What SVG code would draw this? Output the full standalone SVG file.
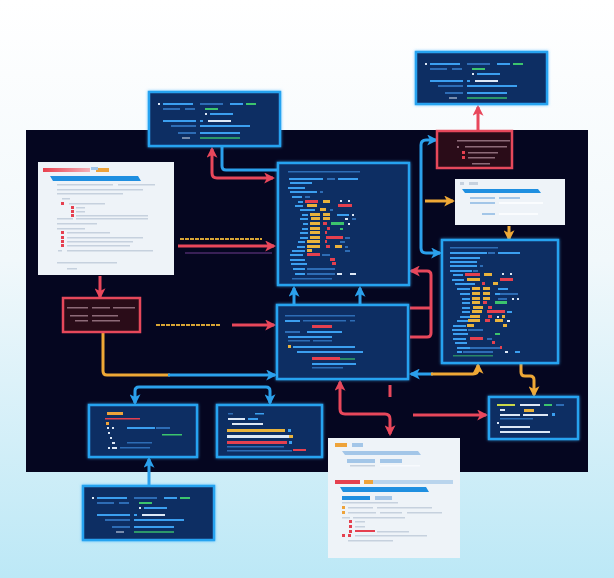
<svg xmlns="http://www.w3.org/2000/svg" width="614" height="578" viewBox="0 0 614 578">
<style>
.panel{fill:#050620}
.nb{fill:#112e64;stroke:#25a3f0;stroke-width:2.5}
.nr{fill:#2a0c18;stroke:#e6485b;stroke-width:2.5}
.card{fill:#eef3f8}
.b{fill:#3b9ff0}.bf{fill:#2d6cb5}.w{fill:#dde8f6}.y{fill:#e9b33c}.r{fill:#e5404f}.g{fill:#3cc46d}
.gr{fill:#c6d1de}.lb{fill:#a3c6e8}.o{fill:#eea33a}.rf{fill:#8d6a78}.bb{fill:#1f8fe0}
.cr{fill:none;stroke:#e8475b;stroke-width:3}
.cb{fill:none;stroke:#2ba0ec;stroke-width:3}
.co{fill:none;stroke:#efa836;stroke-width:3}
.lbl{fill:none;stroke:#d9a535;stroke-width:1.8;stroke-dasharray:4 1}
</style>
<defs>
<linearGradient id="bg" x1="0" y1="0" x2="0" y2="1">
<stop offset="0" stop-color="#ffffff"/>
<stop offset="0.45" stop-color="#f1f8fb"/>
<stop offset="1" stop-color="#bce8f6"/>
</linearGradient>
<linearGradient id="rbar" x1="0" y1="0" x2="1" y2="0">
<stop offset="0" stop-color="#e8404e"/>
<stop offset="1" stop-color="#f3b0b8"/>
</linearGradient>
<filter id="glow" x="-10%" y="-10%" width="120%" height="120%">
<feDropShadow dx="0" dy="0" stdDeviation="1.5" flood-color="#3ab0ff" flood-opacity="0.7"/>
</filter>
<marker id="ar" viewBox="0 0 10 10" refX="8" refY="5" markerWidth="11" markerHeight="11" markerUnits="userSpaceOnUse" orient="auto-start-reverse">
<path d="M0,0 L10,5 L0,10 L2.5,5 z" fill="#e8475b"/></marker>
<marker id="ab" viewBox="0 0 10 10" refX="8" refY="5" markerWidth="11" markerHeight="11" markerUnits="userSpaceOnUse" orient="auto-start-reverse">
<path d="M0,0 L10,5 L0,10 L2.5,5 z" fill="#2ba0ec"/></marker>
<marker id="ao" viewBox="0 0 10 10" refX="8" refY="5" markerWidth="11" markerHeight="11" markerUnits="userSpaceOnUse" orient="auto-start-reverse">
<path d="M0,0 L10,5 L0,10 L2.5,5 z" fill="#efa836"/></marker>
<g id="tpl">
<rect class="w" x="9" y="11" width="2" height="2"/><rect class="b" x="14" y="11" width="30" height="2"/><rect class="bf" x="51" y="11" width="23" height="2"/><rect class="b" x="81" y="11" width="13" height="2"/><rect class="g" x="97" y="11" width="10" height="2"/>
<rect class="bf" x="14" y="16" width="17" height="2"/><rect class="bf" x="36" y="16" width="10" height="2"/><rect class="g" x="56" y="16" width="13" height="2"/>
<rect class="w" x="56" y="21" width="2" height="2"/><rect class="b" x="61" y="21" width="23" height="2"/>
<rect class="b" x="14" y="28" width="33" height="2"/><rect class="b" x="51" y="28" width="3" height="2"/><rect class="w" x="59" y="28" width="23" height="2"/>
<rect class="bf" x="22" y="33" width="25" height="2"/><rect class="b" x="51" y="33" width="50" height="2"/>
<rect class="bf" x="29" y="40" width="18" height="2"/><rect class="b" x="51" y="40" width="40" height="2"/>
<rect class="w" x="33" y="45" width="8" height="2" opacity="0.5"/><rect class="g" x="51" y="45" width="40" height="2" opacity="0.7"/>
</g>
</defs>
<rect x="0" y="0" width="614" height="578" fill="url(#bg)"/>
<rect class="panel" x="26" y="130" width="562" height="342"/>

<g id="connectors">
<path class="cr" d="M212,149 L212,173 Q212,178 217,178 L273,178" marker-start="url(#ar)" marker-end="url(#ar)"/>
<line class="lbl" x1="180" y1="239" x2="262" y2="239"/>
<path class="cr" d="M178,246 L274,246" marker-end="url(#ar)"/>
<path d="M185,253 L272,253" stroke="#6a3a8a" stroke-width="1.5" opacity="0.7" fill="none"/>
<path class="cr" d="M100,276 L100,297" marker-end="url(#ar)"/>
<line class="lbl" x1="156" y1="325" x2="220" y2="325"/>
<path class="cr" d="M232,325 L274,325" marker-end="url(#ar)"/>
<path class="cr" d="M478,130 L478,107" marker-end="url(#ar)"/>
<path class="cr" d="M411,271 L427,271 Q431,271 431,275 L431,333 Q431,337 427,337 L410,337 M410,308 L431,308" marker-start="url(#ar)"/>
<path class="cr" d="M340,382 L340,409 Q340,414 345,414 L385,414 Q390,414 390,419 L390,434" marker-start="url(#ar)" marker-end="url(#ar)"/>
<path class="cr" d="M390,385 L390,397" stroke-width="2.5"/>
<path class="cr" d="M413,415 L486,415" marker-end="url(#ar)"/>
<path class="cb" d="M222,147 L222,166 Q222,170 226,170 L277,170"/>
<path class="cb" d="M294,305 L294,288" marker-end="url(#ab)"/>
<path class="cb" d="M360,305 L360,288" marker-end="url(#ab)"/>
<path class="cb" d="M436,140 L426,140 Q421,140 421,145 L421,248 Q421,253 426,253 L440,253" marker-start="url(#ab)" marker-end="url(#ab)"/>
<path class="cb" d="M411,374 L433,374" marker-start="url(#ab)"/>
<path class="co" d="M431,374 L473,374 Q478,374 478,369 L478,365" marker-end="url(#ao)"/>
<path class="cb" d="M135,403 L135,391 Q135,387 139,387 L266,387 Q270,387 270,391 L270,403" marker-start="url(#ab)" marker-end="url(#ab)"/>
<path class="cb" d="M149,486 L149,459" marker-end="url(#ab)"/>
<path class="co" d="M103,333 L103,371 Q103,375 107,375 L170,375"/>
<path class="cb" d="M168,375 L275,375" marker-end="url(#ab)"/>
<path class="co" d="M425,201 L453,201" marker-end="url(#ao)"/>
<path class="co" d="M509,226 L509,239" marker-end="url(#ao)"/>
<path class="co" d="M521,364 L521,372 Q521,376 525,376 L530,376 Q534,376 534,380 L534,395" marker-end="url(#ao)"/>
</g>

<g id="n1">
<rect class="nb" filter="url(#glow)" x="149" y="92" width="131" height="54"/>
<use href="#tpl" x="149" y="92"/>
</g>
<g id="n2">
<rect class="nb" filter="url(#glow)" x="416" y="52" width="131" height="52"/>
<use href="#tpl" x="416" y="52"/>
</g>
<g id="n12">
<rect class="nb" filter="url(#glow)" x="83" y="486" width="131" height="54"/>
<use href="#tpl" x="83" y="486"/>
</g>

<g id="n3">
<rect class="nr" x="437" y="131" width="75" height="37"/>
<rect class="rf" x="457" y="140" width="53" height="1.5"/>
<rect class="rf" x="457" y="146" width="2" height="2"/><rect class="rf" x="465" y="146" width="42" height="1.5"/>
<rect class="r" x="462" y="151" width="3" height="3"/><rect class="rf" x="468" y="152" width="30" height="1.5"/>
<rect class="r" x="462" y="156" width="3" height="3"/><rect class="rf" x="468" y="157" width="27" height="1.5"/>
<rect class="rf" x="472" y="163" width="18" height="1.5"/>
</g>

<g id="n4">
<rect class="card" x="455" y="179" width="110" height="46"/>
<rect class="gr" x="460" y="182" width="4" height="3"/><rect class="gr" x="469" y="182" width="9" height="3"/>
<path d="M462,189 L538,189 L541,193 L465,193 z" class="bb"/>
<rect class="lb" x="470" y="197" width="25" height="2"/><rect class="lb" x="499" y="197" width="21" height="2"/>
<rect class="lb" x="470" y="202" width="25" height="2"/><rect fill="#fafcfe" x="499" y="202" width="44" height="2"/>
<rect class="lb" x="482" y="213" width="13" height="2"/><rect fill="#fafcfe" x="499" y="213" width="39" height="2"/>
</g>

<g id="n5">
<rect class="card" x="38" y="162" width="136" height="113"/>
<rect fill="url(#rbar)" x="43" y="168" width="47" height="4"/><rect class="o" x="96" y="168" width="13" height="4"/><rect class="lb" x="91" y="167" width="7" height="3"/>
<path d="M50,176 L138,176 L141,181 L53,181 z" class="bb"/>
<rect class="gr" x="57" y="184" width="56" height="1.5"/><rect class="gr" x="118" y="184" width="37" height="1.5"/>
<rect class="gr" x="57" y="189" width="86" height="1.5"/>
<rect class="gr" x="57" y="193" width="66" height="1.5"/>
<rect class="gr" x="62" y="198" width="8" height="1.5"/>
<rect class="r" x="61" y="202" width="3" height="3"/><rect class="gr" x="69" y="203" width="36" height="1.5"/>
<rect class="r" x="71" y="206" width="3" height="3"/><rect class="gr" x="76" y="207" width="9" height="1.5"/>
<rect class="r" x="71" y="210" width="3" height="3"/><rect class="gr" x="76" y="211" width="9" height="1.5"/>
<rect class="r" x="71" y="214" width="3" height="3"/><rect class="gr" x="76" y="215" width="72" height="1.5"/>
<rect class="gr" x="57" y="218" width="16" height="1.5"/><rect class="gr" x="76" y="218" width="72" height="1.5"/>
<rect class="gr" x="57" y="223" width="40" height="1.5"/>
<rect class="gr" x="57" y="228" width="28" height="1.5"/>
<rect class="r" x="61" y="231" width="3" height="3"/><rect class="gr" x="67" y="232" width="43" height="1.5"/>
<rect class="r" x="61" y="236" width="3" height="3"/><rect class="gr" x="67" y="237" width="76" height="1.5"/>
<rect class="r" x="61" y="240" width="3" height="3"/><rect class="gr" x="67" y="241" width="66" height="1.5"/>
<rect class="r" x="61" y="244" width="3" height="3"/><rect class="gr" x="67" y="245" width="63" height="1.5"/>
<rect class="gr" x="58" y="250" width="4" height="1.5"/><rect class="gr" x="67" y="250" width="86" height="1.5"/>
<rect class="gr" x="57" y="262" width="60" height="1.5"/>
<rect class="gr" x="67" y="268" width="10" height="1.5"/>
</g>

<g id="n6">
<rect class="nb" filter="url(#glow)" x="278" y="163" width="131" height="122"/>
<rect class="bf" x="288" y="171" width="72" height="1.5"/>
<rect class="b" x="289" y="178" width="34" height="2"/><rect class="bf" x="327" y="178" width="8" height="2"/><rect class="b" x="338" y="178" width="20" height="2"/>
<rect class="b" x="290" y="182" width="22" height="2"/>
<rect class="b" x="288" y="187" width="17" height="2"/>
<rect class="b" x="290" y="191" width="27" height="2"/><rect class="bf" x="320" y="191" width="3" height="2"/>
<rect class="b" x="292" y="196" width="10" height="2"/><rect class="bf" x="305" y="196" width="5" height="2"/>
<rect class="b" x="298" y="201" width="5" height="2"/><rect class="r" x="305" y="200" width="13" height="3"/><rect class="y" x="323" y="200" width="7" height="3"/><rect class="w" x="340" y="200" width="2" height="2"/><rect class="w" x="348" y="200" width="2" height="2"/>
<rect class="b" x="295" y="205" width="8" height="2"/><rect class="y" x="307" y="204" width="10" height="3"/><rect class="r" x="338" y="204" width="14" height="3"/>
<rect class="b" x="300" y="209" width="15" height="2"/><rect class="y" x="320" y="208" width="6" height="3"/><rect class="bf" x="330" y="209" width="3" height="2"/>
<rect class="b" x="302" y="214" width="6" height="2"/><rect class="y" x="310" y="213" width="10" height="3"/><rect class="y" x="323" y="213" width="7" height="3"/><rect class="b" x="337" y="214" width="12" height="2"/><rect class="w" x="352" y="214" width="2" height="2"/>
<rect class="b" x="300" y="218" width="8" height="2"/><rect class="y" x="311" y="217" width="9" height="3"/><rect class="y" x="323" y="217" width="7" height="3"/><rect class="w" x="345" y="218" width="3" height="2"/><rect class="bf" x="352" y="218" width="4" height="2"/>
<rect class="b" x="303" y="223" width="5" height="2"/><rect class="y" x="310" y="222" width="10" height="3"/><rect class="r" x="323" y="222" width="4" height="3"/><rect class="g" x="331" y="222" width="13" height="3"/><rect class="w" x="348" y="223" width="2" height="2"/>
<rect class="b" x="302" y="228" width="6" height="2"/><rect class="y" x="310" y="227" width="10" height="3"/><rect class="r" x="327" y="227" width="3" height="3"/><rect class="g" x="340" y="228" width="3" height="2"/>
<rect class="b" x="300" y="232" width="8" height="2"/><rect class="y" x="310" y="231" width="10" height="3"/><rect class="r" x="325" y="231" width="2" height="3"/>
<rect class="b" x="300" y="237" width="8" height="2"/><rect class="y" x="310" y="236" width="10" height="3"/><rect class="r" x="326" y="236" width="17" height="3"/><rect class="bf" x="345" y="237" width="5" height="2"/>
<rect class="b" x="298" y="241" width="7" height="2"/><rect class="y" x="307" y="240" width="13" height="3"/><rect class="r" x="325" y="240" width="2" height="3"/><rect class="bf" x="340" y="241" width="5" height="2"/>
<rect class="b" x="297" y="246" width="8" height="2"/><rect class="y" x="307" y="245" width="13" height="3"/><rect class="r" x="326" y="245" width="4" height="3"/><rect class="y" x="335" y="245" width="7" height="3"/><rect class="bf" x="345" y="246" width="3" height="2"/>
<rect class="b" x="292" y="250" width="13" height="2"/><rect class="y" x="307" y="249" width="5" height="3"/><rect class="bf" x="345" y="250" width="5" height="2"/>
<rect class="b" x="290" y="254" width="13" height="2"/><rect class="r" x="307" y="253" width="13" height="3"/><rect class="bf" x="322" y="254" width="8" height="2"/>
<rect class="b" x="290" y="259" width="15" height="2"/><rect class="r" x="330" y="258" width="5" height="3"/>
<rect class="b" x="291" y="263" width="16" height="2"/><rect class="r" x="332" y="262" width="4" height="3"/>
<rect class="b" x="293" y="268" width="12" height="2"/><rect class="bf" x="307" y="268" width="28" height="2"/>
<rect class="b" x="295" y="273" width="10" height="2"/><rect class="bf" x="307" y="273" width="28" height="2"/><rect class="w" x="337" y="273" width="5" height="2"/><rect class="w" x="350" y="273" width="6" height="2"/>
<rect class="bf" x="292" y="278" width="40" height="1.5"/>
</g>

<g id="n7">
<rect class="nb" filter="url(#glow)" x="442" y="240" width="116" height="123"/>
<rect class="bf" x="450" y="247" width="48" height="1.5"/>
<rect class="b" x="450" y="252" width="37" height="2"/><rect class="bf" x="488" y="252" width="7" height="2"/><rect class="b" x="498" y="252" width="22" height="2"/>
<rect class="b" x="450" y="257" width="30" height="2"/>
<rect class="b" x="450" y="261" width="27" height="2"/>
<rect class="b" x="450" y="265" width="27" height="2"/><rect class="bf" x="480" y="265" width="3" height="2"/>
<rect class="b" x="450" y="270" width="22" height="2"/><rect class="bf" x="473" y="270" width="5" height="2"/>
<rect class="b" x="453" y="274" width="10" height="2"/><rect class="r" x="465" y="273" width="15" height="3"/><rect class="y" x="484" y="273" width="8" height="3"/><rect class="w" x="502" y="273" width="2" height="2"/><rect class="w" x="510" y="273" width="2" height="2"/>
<rect class="b" x="452" y="279" width="12" height="2"/><rect class="y" x="467" y="278" width="13" height="3"/><rect class="r" x="500" y="278" width="13" height="3"/>
<rect class="b" x="455" y="283" width="20" height="2"/><rect class="r" x="482" y="282" width="3" height="3"/><rect class="y" x="493" y="282" width="5" height="3"/>
<rect class="b" x="457" y="288" width="13" height="2"/><rect class="y" x="472" y="287" width="8" height="3"/><rect class="y" x="483" y="287" width="7" height="3"/><rect class="b" x="498" y="288" width="10" height="2"/>
<rect class="b" x="460" y="293" width="10" height="2"/><rect class="y" x="472" y="292" width="8" height="3"/><rect class="y" x="483" y="292" width="7" height="3"/><rect class="b" x="495" y="293" width="5" height="2"/><rect class="bf" x="500" y="293" width="18" height="2"/>
<rect class="b" x="462" y="298" width="8" height="2"/><rect class="y" x="472" y="297" width="8" height="3"/><rect class="y" x="483" y="297" width="7" height="3"/><rect class="bf" x="498" y="298" width="9" height="2"/><rect class="w" x="512" y="298" width="2" height="2"/><rect class="w" x="517" y="298" width="2" height="2"/>
<rect class="b" x="462" y="302" width="8" height="2"/><rect class="y" x="472" y="301" width="8" height="3"/><rect class="r" x="483" y="301" width="4" height="3"/><rect class="g" x="495" y="301" width="12" height="3"/>
<rect class="b" x="462" y="307" width="8" height="2"/><rect class="y" x="473" y="306" width="10" height="3"/><rect class="r" x="488" y="306" width="4" height="3"/>
<rect class="b" x="462" y="311" width="8" height="2"/><rect class="y" x="472" y="310" width="10" height="3"/><rect class="r" x="487" y="310" width="18" height="3"/><rect class="b" x="507" y="311" width="5" height="2"/>
<rect class="b" x="460" y="316" width="10" height="2"/><rect class="y" x="470" y="315" width="10" height="3"/><rect class="r" x="488" y="315" width="4" height="3"/><rect class="w" x="497" y="316" width="2" height="2"/><rect class="y" x="502" y="315" width="3" height="3"/>
<rect class="b" x="457" y="320" width="13" height="2"/><rect class="y" x="468" y="319" width="12" height="3"/><rect class="r" x="485" y="319" width="5" height="3"/><rect class="y" x="495" y="319" width="8" height="3"/><rect class="w" x="507" y="320" width="3" height="2"/>
<rect class="b" x="453" y="325" width="13" height="2"/><rect class="y" x="467" y="324" width="7" height="3"/><rect class="y" x="503" y="324" width="4" height="3"/>
<rect class="b" x="452" y="329" width="15" height="2"/><rect class="bf" x="468" y="329" width="15" height="2"/>
<rect class="b" x="453" y="333" width="15" height="2"/><rect class="g" x="495" y="333" width="5" height="2"/>
<rect class="b" x="453" y="338" width="13" height="2"/><rect class="r" x="470" y="337" width="13" height="3"/><rect class="bf" x="487" y="338" width="5" height="2"/>
<rect class="b" x="455" y="342" width="12" height="2"/><rect class="r" x="492" y="341" width="3" height="3"/>
<rect class="b" x="457" y="347" width="13" height="2"/><rect class="bf" x="470" y="347" width="30" height="2"/><rect class="r" x="500" y="346" width="2" height="3"/>
<rect class="b" x="457" y="351" width="5" height="2"/><rect class="bf" x="463" y="351" width="30" height="2"/><rect class="w" x="505" y="351" width="3" height="2"/><rect class="b" x="515" y="351" width="5" height="2"/>
<rect class="g" x="453" y="355" width="40" height="1.5" opacity="0.6"/>
</g>

<g id="n8">
<rect class="nr" x="63" y="298" width="77" height="34"/>
<rect class="rf" x="67" y="307" width="21" height="1.5"/><rect class="rf" x="92" y="307" width="18" height="1.5"/><rect class="rf" x="113" y="307" width="22" height="1.5"/>
<rect class="rf" x="70" y="315" width="18" height="1.5"/><rect class="rf" x="92" y="315" width="26" height="1.5"/>
<rect class="rf" x="75" y="320" width="13" height="1.5"/><rect class="rf" x="92" y="320" width="28" height="1.5"/>
</g>

<g id="n9">
<rect class="nb" filter="url(#glow)" x="277" y="305" width="131" height="74"/>
<rect class="bf" x="285" y="315" width="70" height="1.5"/>
<rect class="b" x="285" y="320" width="15" height="2"/><rect class="bf" x="303" y="320" width="43" height="1.5"/><rect class="bf" x="350" y="320" width="5" height="1.5"/>
<rect class="r" x="312" y="325" width="20" height="3"/>
<rect class="bf" x="285" y="331" width="15" height="2"/><rect class="b" x="307" y="331" width="35" height="2"/>
<rect class="b" x="288" y="336" width="44" height="2"/>
<rect class="bf" x="288" y="340" width="22" height="1.5"/><rect class="bf" x="313" y="340" width="19" height="1.5"/>
<rect class="y" x="288" y="345" width="3" height="3"/><rect class="b" x="293" y="346" width="62" height="2"/>
<rect class="b" x="297" y="351" width="66" height="2"/>
<rect class="r" x="312" y="357" width="28" height="3"/><rect class="g" x="340" y="358" width="15" height="2" opacity="0.6"/>
<rect class="b" x="312" y="363" width="44" height="2"/>
<rect class="bf" x="312" y="367" width="31" height="1.5"/>
</g>

<g id="n10">
<rect class="nb" filter="url(#glow)" x="89" y="405" width="108" height="52"/>
<rect class="o" x="107" y="412" width="16" height="3"/>
<rect class="r" x="105" y="418" width="35" height="1.5"/>
<rect class="o" x="106" y="422" width="3" height="3"/>
<rect class="w" x="107" y="427" width="2" height="2"/><rect class="w" x="112" y="427" width="2" height="2"/><rect class="b" x="127" y="427" width="28" height="2"/><rect class="bf" x="156" y="427" width="14" height="2"/>
<rect class="w" x="108" y="432" width="2" height="2"/><rect class="g" x="162" y="434" width="20" height="1.5"/>
<rect class="w" x="110" y="437" width="2" height="2"/>
<rect class="w" x="112" y="442" width="3" height="2"/><rect class="bf" x="127" y="442" width="25" height="1.5"/>
<rect class="w" x="108" y="447" width="2" height="2"/><rect class="w" x="112" y="447" width="5" height="2"/><rect class="bf" x="120" y="447" width="30" height="1.5"/>
</g>

<g id="n11">
<rect class="nb" filter="url(#glow)" x="217" y="405" width="105" height="52"/>
<rect class="bf" x="228" y="413" width="5" height="1.5"/><rect class="b" x="255" y="413" width="9" height="1.5"/>
<rect class="w" x="228" y="418" width="17" height="2"/><rect class="b" x="248" y="418" width="10" height="2"/>
<rect class="w" x="232" y="423" width="31" height="2"/>
<rect class="y" x="227" y="429" width="58" height="3"/><rect class="b" x="288" y="429" width="3" height="3"/>
<rect class="w" x="227" y="435" width="62" height="3"/><rect class="y" x="289" y="435" width="4" height="3"/>
<rect class="r" x="227" y="441" width="60" height="3"/><rect class="b" x="289" y="441" width="3" height="3"/>
<rect class="bf" x="227" y="446" width="57" height="1.5"/>
<rect class="bf" x="227" y="450" width="65" height="1.5"/><rect class="r" x="293" y="449" width="13" height="2"/>
</g>

<g id="n13">
<rect class="card" x="328" y="438" width="132" height="120"/>
<rect class="o" x="335" y="443" width="12" height="4"/><rect class="lb" x="352" y="443" width="11" height="4"/>
<path d="M342,451 L418,451 L421,455 L345,455 z" class="lb"/>
<rect class="lb" x="347" y="459" width="28" height="4"/><rect class="lb" x="380" y="459" width="22" height="4"/>
<rect class="gr" x="350" y="465" width="25" height="1.5"/><rect fill="#f7fafd" x="380" y="465" width="40" height="1.5"/>
<rect class="r" x="335" y="480" width="25" height="4"/><rect class="o" x="364" y="480" width="9" height="4"/><rect class="lb" x="373" y="480" width="80" height="4" opacity="0.7"/>
<path d="M340,487 L426,487 L429,492 L343,492 z" class="bb"/>
<rect class="bb" x="342" y="496" width="28" height="4"/><rect class="lb" x="375" y="496" width="17" height="4"/>
<rect class="gr" x="342" y="502" width="56" height="1.5"/>
<rect class="o" x="342" y="506" width="3" height="3"/><rect class="gr" x="348" y="507" width="25" height="1.5"/><rect class="gr" x="377" y="507" width="55" height="1.5"/>
<rect class="o" x="342" y="511" width="3" height="3"/><rect class="gr" x="348" y="512" width="28" height="1.5"/><rect class="gr" x="380" y="512" width="22" height="1.5"/><rect class="gr" x="407" y="512" width="35" height="1.5"/>
<rect class="gr" x="342" y="517" width="8" height="1.5"/><rect class="gr" x="353" y="517" width="52" height="1.5"/>
<rect class="r" x="349" y="520" width="3" height="3"/><rect class="gr" x="355" y="521" width="10" height="1.5"/>
<rect class="r" x="349" y="525" width="3" height="3"/><rect class="gr" x="355" y="526" width="10" height="1.5"/>
<rect class="r" x="349" y="530" width="3" height="3"/><rect class="r" x="355" y="530" width="20" height="2"/><rect class="gr" x="377" y="531" width="32" height="1.5"/>
<rect class="r" x="342" y="534" width="3" height="3"/><rect class="r" x="348" y="534" width="3" height="3"/><rect class="gr" x="355" y="535" width="72" height="1.5"/>
<rect class="gr" x="348" y="540" width="45" height="1.5"/>
</g>

<g id="n14">
<rect class="nb" filter="url(#glow)" x="489" y="397" width="89" height="42"/>
<rect x="497" y="404" width="18" height="2" style="fill:#c9d84a"/><rect class="w" x="520" y="404" width="20" height="2"/><rect class="g" x="544" y="404" width="8" height="2"/><rect class="bf" x="556" y="404" width="8" height="2"/>
<rect class="w" x="500" y="409" width="5" height="2"/><rect class="y" x="524" y="409" width="10" height="3"/>
<rect class="w" x="500" y="414" width="20" height="2"/><rect class="w" x="523" y="414" width="25" height="2"/><rect class="b" x="552" y="413" width="3" height="3"/>
<rect class="bf" x="500" y="418" width="33" height="1.5"/>
<rect class="w" x="497" y="422" width="2" height="2"/>
<rect class="w" x="500" y="426" width="30" height="2"/>
<rect class="w" x="500" y="431" width="50" height="2"/>
</g>
</svg>
